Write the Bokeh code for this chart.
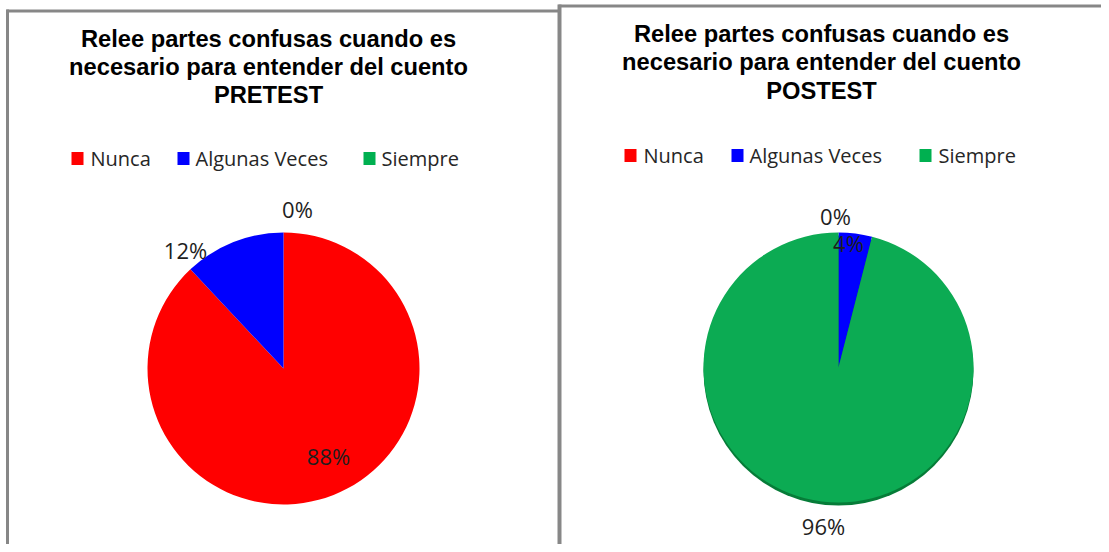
import math
from bokeh.plotting import figure
from bokeh.models import Range1d, ColumnDataSource
from bokeh.core.properties import value
from bokeh.embed import file_html
from bokeh.resources import INLINE

# ---------------- data ----------------
categories = ["Nunca", "Algunas Veces", "Siempre"]
slice_colors = ["#ff0000", "#0000ff", "#0cab53"]
legend_colors = ["#ff0000", "#0000ff", "#00b050"]
pretest = [88, 12, 0]
postest = [0, 4, 96]
title_lines = ["Relee partes confusas cuando es", "necesario para entender del cuento"]
tests = ["PRETEST", "POSTEST"]

# ---------------- layout (pixel coordinates, top-left origin) ----------------
W, H = 1101, 544

def Y(py):
    return H - py

panels = [
    dict(values=pretest, cx=283, cy=368, r=136, tx=268, tbase=[38, 66, 94],
         leg_y=158, leg_sq=[77, 183, 369], leg_tx=[90, 195, 381],
         labels=[(328, 455), (185, 249), (297, 208)], shadow=False),
    dict(values=postest, cx=838, cy=367, r=135, tx=821, tbase=[33, 61.5, 90],
         leg_y=155, leg_sq=[630, 737, 925], leg_tx=[643, 749, 938],
         labels=[(835, 215), (848, 242), (823, 525)], shadow=True),
]

p = figure(width=W, height=H, x_range=Range1d(0, W), y_range=Range1d(0, H),
           output_backend="svg", toolbar_location=None, title=None,
           min_border=0, outline_line_color=None)
p.xaxis.visible = False
p.yaxis.visible = False
p.grid.visible = False
p.background_fill_color = "white"
p.border_fill_color = "white"

# panel borders
border_col = "#878787"
p.segment(x0=[7], y0=[Y(9)], x1=[7], y1=[Y(560)], line_color=border_col, line_width=3)
p.segment(x0=[6], y0=[Y(10.5)], x1=[558], y1=[Y(10.5)], line_color=border_col, line_width=3)
p.segment(x0=[559], y0=[Y(4)], x1=[559], y1=[Y(560)], line_color=border_col, line_width=4)
p.segment(x0=[558], y0=[Y(5.5)], x1=[1110], y1=[Y(5.5)], line_color=border_col, line_width=3)

for i, pan in enumerate(panels):
    vals = pan["values"]
    total = float(sum(vals))
    cx, cy, r = pan["cx"], Y(pan["cy"]), pan["r"]

    if pan["shadow"]:
        p.circle(x=[cx], y=[cy - 3], radius=r, fill_color="#067c38", line_color=None)

    starts, ends, cols = [], [], []
    cum = 0.0
    for v, c in zip(vals, slice_colors):
        a0 = math.pi / 2 - 2 * math.pi * cum / total
        cum += v
        a1 = math.pi / 2 - 2 * math.pi * cum / total
        if v > 0:
            starts.append(a0)
            ends.append(a1)
            cols.append(c)
    src = ColumnDataSource(dict(x=[cx] * len(starts), y=[cy] * len(starts),
                                s=starts, e=ends, c=cols))
    p.wedge(x="x", y="y", radius=r, start_angle="s", end_angle="e",
            direction="clock", fill_color="c", line_color=None, source=src)

    # data labels
    lx = [pt[0] for pt in pan["labels"]]
    ly = [Y(pt[1]) for pt in pan["labels"]]
    txt = ["%d%%" % v for v in vals]
    p.text(x=lx, y=ly, text=txt, text_font=value("Open Sans"), text_font_size="22px",
           text_color="#1e1e1e", text_align="center", text_baseline="middle")

    # title
    lines = title_lines + [tests[i]]
    p.text(x=[pan["tx"]] * 3, y=[Y(b) for b in pan["tbase"]], text=lines,
           text_font=value("Liberation Sans"), text_font_style="bold",
           text_font_size="23.7px", text_color="#000000",
           text_align="center", text_baseline="alphabetic")

    # legend
    ly0 = Y(pan["leg_y"])
    p.rect(x=pan["leg_sq"], y=[ly0] * 3, width=12, height=13,
           fill_color=legend_colors, line_color=None)
    p.text(x=pan["leg_tx"], y=[ly0] * 3, text=categories,
           text_font=value("Open Sans"), text_font_size="20px",
           text_color="#262626", text_align="left", text_baseline="middle")

open("out.html", "w").write(file_html(p, INLINE))
